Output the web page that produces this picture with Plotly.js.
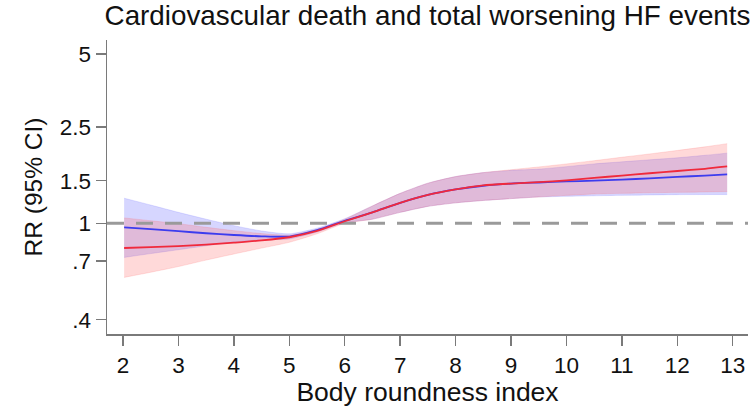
<!DOCTYPE html>
<html>
<head>
<meta charset="utf-8">
<script src="https://cdn.plot.ly/plotly-3.0.1.min.js"></script>
<style>
  html, body { margin: 0; padding: 0; background: #ffffff; }
  #chart { width: 755px; height: 413px; }
</style>
</head>
<body>
<div id="chart"></div>
<script>
// Body roundness index grid
const bri = [2.02, 2.5, 3, 3.5, 4, 4.5, 5, 5.5, 6, 6.5, 7, 7.5, 8, 8.5, 9, 9.5, 10, 10.5, 11, 11.5, 12, 12.5, 12.9];

// Blue series: RR and 95% CI
const blueRR    = [0.962, 0.947, 0.928, 0.910, 0.895, 0.884, 0.882, 0.937, 1.025, 1.110, 1.215, 1.310, 1.380, 1.430, 1.460, 1.475, 1.490, 1.500, 1.515, 1.535, 1.555, 1.575, 1.592];
const blueLower = [0.723, 0.750, 0.778, 0.808, 0.837, 0.855, 0.862, 0.920, 1.005, 1.040, 1.110, 1.175, 1.215, 1.243, 1.265, 1.285, 1.293, 1.300, 1.305, 1.310, 1.314, 1.315, 1.315];
const blueUpper = [1.270, 1.190, 1.110, 1.040, 0.978, 0.930, 0.905, 0.955, 1.045, 1.180, 1.330, 1.465, 1.560, 1.620, 1.655, 1.675, 1.715, 1.760, 1.795, 1.830, 1.865, 1.910, 1.950];

// Red series: RR and 95% CI
const redRR    = [0.791, 0.797, 0.805, 0.816, 0.832, 0.850, 0.876, 0.930, 1.020, 1.110, 1.215, 1.310, 1.380, 1.435, 1.460, 1.480, 1.505, 1.540, 1.575, 1.610, 1.645, 1.680, 1.718];
const redLower = [0.598, 0.628, 0.663, 0.705, 0.747, 0.790, 0.835, 0.905, 1.000, 1.040, 1.110, 1.175, 1.215, 1.243, 1.265, 1.285, 1.305, 1.322, 1.330, 1.338, 1.343, 1.348, 1.353];
const redUpper = [1.053, 1.025, 0.997, 0.963, 0.933, 0.907, 0.893, 0.945, 1.040, 1.180, 1.330, 1.465, 1.560, 1.620, 1.665, 1.710, 1.760, 1.815, 1.875, 1.935, 2.000, 2.070, 2.134];

// Reference line and axis ticks
const refRR = 1;
const xRange = [1.711, 13.276];
const xTicks = [2, 3, 4, 5, 6, 7, 8, 9, 10, 11, 12, 13];
const yTickVals = [0.4, 0.7, 1, 1.5, 2.5, 5];
const yTickText = ['.4', '.7', '1', '1.5', '2.5', '5'];
const yRangeVals = [0.349, 5.72];

const FONT = 'Liberation Sans, Arial, sans-serif';
const BLUE = '#3c3cee';
const RED = '#f02a3c';
const BLUE_FILL = 'rgba(95,95,255,0.26)';
const RED_FILL = 'rgba(255,95,95,0.24)';

function band(lower, upper, fill, edge) {
  return [
    { x: bri, y: lower, type: 'scatter', mode: 'lines', line: { width: 1, color: edge, shape: 'spline', smoothing: 0.6 }, hoverinfo: 'skip', showlegend: false },
    { x: bri, y: upper, type: 'scatter', mode: 'lines', fill: 'tonexty', fillcolor: fill, line: { width: 1, color: edge, shape: 'spline', smoothing: 0.6 }, hoverinfo: 'skip', showlegend: false }
  ];
}

const traces = [
  ...band(blueLower, blueUpper, BLUE_FILL, 'rgba(95,95,255,0.18)'),
  ...band(redLower, redUpper, RED_FILL, 'rgba(255,95,95,0.18)'),
  { x: xRange, y: [refRR, refRR], type: 'scatter', mode: 'lines', line: { color: '#9a9a9a', width: 3, dash: '17px,12px' }, hoverinfo: 'skip', showlegend: false, cliponaxis: false },
  { x: bri, y: blueRR, type: 'scatter', mode: 'lines', line: { color: BLUE, width: 1.8, shape: 'spline', smoothing: 0.6 }, showlegend: false },
  { x: bri, y: redRR, type: 'scatter', mode: 'lines', line: { color: RED, width: 1.8, shape: 'spline', smoothing: 0.6 }, showlegend: false }
];

const layout = {
  width: 755,
  height: 413,
  margin: { l: 107, r: 7, t: 40, b: 79 },
  paper_bgcolor: '#ffffff',
  plot_bgcolor: '#ffffff',
  font: { family: FONT, color: '#111111', size: 22 },
  title: {
    text: 'Cardiovascular death and total worsening HF events',
    font: { family: FONT, size: 27.8, color: '#111111' },
    x: 0.5, xref: 'paper', xanchor: 'center',
    y: 1 - 15 / 413, yref: 'container', yanchor: 'middle'
  },
  xaxis: {
    range: xRange,
    tickvals: xTicks,
    ticktext: xTicks.map(String),
    ticks: 'outside', ticklen: 10, tickwidth: 1.5, tickcolor: '#7a7a7a',
    showline: true, linecolor: '#7a7a7a', linewidth: 1.5,
    showgrid: false, zeroline: false,
    tickfont: { family: FONT, size: 22.5, color: '#111111' },
    title: { text: 'Body roundness index', font: { family: FONT, size: 26.5, color: '#111111' }, standoff: 4 }
  },
  yaxis: {
    type: 'log',
    range: yRangeVals.map(v => Math.log10(v)),
    tickvals: yTickVals,
    ticktext: yTickText,
    ticks: 'outside', ticklen: 10, tickwidth: 1.5, tickcolor: '#7a7a7a',
    showline: true, linecolor: '#7a7a7a', linewidth: 1.5,
    showgrid: false, zeroline: false,
    tickfont: { family: FONT, size: 22.5, color: '#111111' },
    title: { text: 'RR (95% CI)', font: { family: FONT, size: 24.5, color: '#111111' }, standoff: 10 }
  },
  showlegend: false
};

Plotly.newPlot('chart', traces, layout, { staticPlot: true, displayModeBar: false });
</script>
</body>
</html>
